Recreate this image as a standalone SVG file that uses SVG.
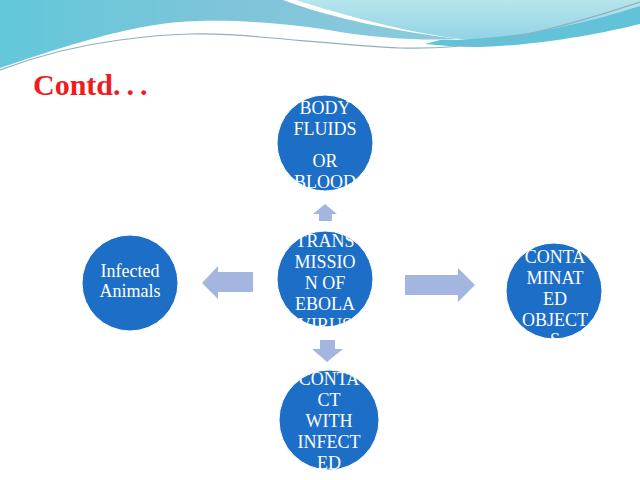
<svg xmlns="http://www.w3.org/2000/svg" width="640" height="480" viewBox="0 0 640 480">
<defs>
<linearGradient id="gL" x1="0" y1="0" x2="1" y2="0">
<stop offset="0" stop-color="#62c8da"/><stop offset="0.5" stop-color="#7fc4da"/><stop offset="1" stop-color="#8ccbdd"/>
</linearGradient>
<linearGradient id="gR" x1="0" y1="0" x2="0" y2="1">
<stop offset="0" stop-color="#b6e5ec"/><stop offset="1" stop-color="#93d2e6"/>
</linearGradient>
<style>
.c{fill:#1d6ec6;stroke:#ffffff;stroke-width:1}
.t{font-family:"Liberation Serif","Times New Roman",serif;font-size:18px;fill:#ffffff;text-anchor:middle}
.a{fill:#a4b6e0}
</style>
</defs>
<g id="background">
<rect width="640" height="480" fill="#ffffff"/>
<path d="M0,0 H283 C330,18 400,32 458,39 C420,41 380,38 340,32 C300,25 250,20 200,21 C150,22 100,34 0,68 Z" fill="url(#gL)"/>
<path d="M296,0 H640 V6 C600,22 540,37 470,40 C410,34 340,14 296,0 Z" fill="url(#gR)"/>
<path d="M440,40 C520,40 590,22 640,6 V24 C600,34 540,45 480,47 C455,47 440,45 425,44 Z" fill="#62c3d8"/>
<path d="M0,70 C40,55 80,45 120,40 C170,33 210,32 260,37 C320,42 360,46 400,48 C440,49 470,46 500,40 C560,28 610,12 640,2" fill="none" stroke="#8fb0bb" stroke-width="1.2"/>
</g>
<text id="title" x="33" y="95" font-family="Liberation Serif,'Times New Roman',serif" font-size="30" font-weight="bold" fill="#ee1c1c">Contd<tspan letter-spacing="6">...</tspan></text>
<g id="connectors">
<path class="a" d="M319,221 V214 H313 L325,204 L337,214 H332 V221 Z"/>
<path class="a" d="M320,340 V349 H312 L327,362 L343,349 H335 V340 Z"/>
<path class="a" d="M253,272 H218 V266 L202,283 L218,299 V292 H253 Z"/>
<path class="a" d="M405,275 H458 V268 L475,285 L458,302 V295 H405 Z"/>
</g>
<g id="node-body-fluids">
<circle class="c" cx="325" cy="143" r="48"/>
<text class="t" x="325" y="114">BODY</text>
<text class="t" x="325" y="135">FLUIDS</text>
<text class="t" x="325" y="167">OR</text>
<text class="t" x="325" y="188">BLOOD</text>
</g>
<g id="node-transmission">
<circle class="c" cx="325" cy="279" r="48"/>
<text class="t" x="325" y="247">TRANS</text>
<text class="t" x="325" y="268">MISSIO</text>
<text class="t" x="325" y="289">N OF</text>
<text class="t" x="325" y="310">EBOLA</text>
<text class="t" x="325" y="331">VIRUS</text>
</g>
<g id="node-contact">
<circle class="c" cx="329" cy="420" r="50"/>
<text class="t" x="329" y="385">CONTA</text>
<text class="t" x="329" y="406">CT</text>
<text class="t" x="329" y="427">WITH</text>
<text class="t" x="329" y="448">INFECT</text>
<text class="t" x="329" y="469">ED</text>
</g>
<g id="node-objects">
<circle class="c" cx="554" cy="291" r="48"/>
<text class="t" x="555" y="241">USE OF</text>
<text class="t" x="555" y="263">CONTA</text>
<text class="t" x="555" y="284">MINAT</text>
<text class="t" x="555" y="305">ED</text>
<text class="t" x="555" y="326">OBJECT</text>
<text class="t" x="555" y="346">S</text>
</g>
<g id="node-animals">
<circle class="c" cx="130" cy="283" r="48"/>
<text class="t" x="130" y="277" font-size="17">Infected</text>
<text class="t" x="130" y="297" font-size="17">Animals</text>
</g>
</svg>
